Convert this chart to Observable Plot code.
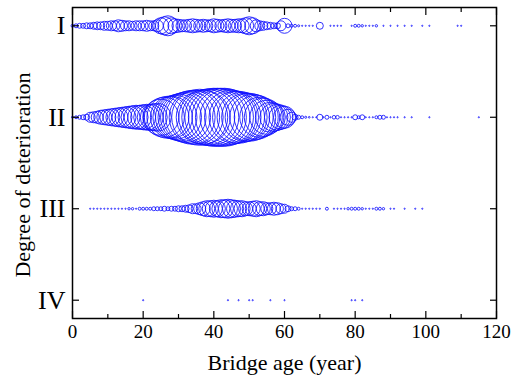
<!DOCTYPE html>
<html>
<head>
<meta charset="utf-8">
<script src="https://cdn.jsdelivr.net/npm/d3@7"></script>
<script src="https://cdn.jsdelivr.net/npm/@observablehq/plot@0.6"></script>
<style>
  html, body { margin: 0; padding: 0; background: white; }
  svg text { font-family: "Liberation Serif", "Times New Roman", serif; }
</style>
</head>
<body>
<div id="chart"></div>
<script>
// Degree categories (y positions 1..4) and their labels
const degreeLabels = ["I", "II", "III", "IV"];
const xMajorTicks = [0, 20, 40, 60, 80, 100, 120];
const xMinorTicks = [10, 30, 50, 70, 90, 110];

// Degree I: bridge age and count of bridges
const agesI = [0,1,2,3,4,5,6,7,8,9,10,11,12,13,14,15,16,17,18,19,20,21,22,23,24,25,26,27,28,29,30,31,32,33,34,35,36,37,38,39,40,41,42,43,44,45,46,47,48,49,50,51,52,53,54,55,56,57,58,59,60,61,62,63,64,65,66,67,68,70,73,74,75,76,79,80,81,82,83,84,85,86,88,90,92,94,96,99,101,109,110];
const countsI = [6,11,17,17,25,25,34,44,44,56,56,69,69,100,84,69,69,56,69,69,69,84,69,69,100,178,225,278,178,136,117,100,100,117,136,117,100,117,100,100,136,117,100,117,136,117,117,136,136,178,225,178,100,69,56,44,34,25,25,69,156,11,6,6,3,1,1,1,1,34,1,1,1,1,1,6,6,4,1,1,1,4,1,1,1,1,1,1,1,1,1];

// Degree II
const agesII = [0,1,2,3,4,5,6,7,8,9,10,11,12,13,14,15,16,17,18,19,20,21,22,23,24,25,26,27,28,29,30,31,32,33,34,35,36,37,38,39,40,41,42,43,44,45,46,47,48,49,50,51,52,53,54,55,56,57,58,59,60,61,62,63,64,65,66,67,68,69,70,71,72,73,74,75,76,77,78,79,80,81,82,83,84,85,86,87,88,89,90,91,92,94,96,101,115];
const countsII = [3,6,11,17,25,69,84,100,136,156,178,201,225,251,278,306,336,367,400,400,434,469,469,506,544,900,1111,1225,1225,1344,1469,1600,1736,1878,2025,2025,2178,2025,2178,2256,2336,2336,2336,2336,2178,2025,1878,1878,1736,1600,1600,1469,1344,1111,1003,803,625,544,469,400,336,178,69,25,11,6,3,2,1,1,25,1,11,1,9,9,1,1,1,1,17,6,17,1,1,1,6,11,11,1,1,1,1,1,1,1,1];

// Degree III
const agesIII = [5,6,7,8,9,10,11,12,13,14,15,16,17,18,19,20,21,22,23,24,25,26,27,28,29,30,31,32,33,34,35,36,37,38,39,40,41,42,43,44,45,46,47,48,49,50,51,52,53,54,55,56,57,58,59,60,61,62,63,64,65,66,67,68,69,70,72,74,75,76,77,78,79,80,81,82,83,84,85,86,87,88,90,91,94,97,99];
const countsIII = [1,1,1,1,1,1,1,1,1,1,1,4,4,1,6,6,6,6,11,11,11,17,11,17,17,25,25,34,44,69,69,100,136,178,178,201,178,225,225,251,225,201,178,178,136,136,156,178,136,136,100,100,117,100,69,56,25,11,11,6,1,1,1,1,1,1,6,1,1,1,1,4,6,6,6,4,1,1,1,6,6,4,1,1,1,1,1];

// Degree IV
const agesIV = [20,44,47,50,51,56,60,79,80,82];
const countsIV = [1,1,1,1,1,1,1,1,1,1];

const rows = [];
[[agesI, countsI], [agesII, countsII], [agesIII, countsIII], [agesIV, countsIV]].forEach(([ages, counts], i) => {
  ages.forEach((a, j) => rows.push({age: a, degree: i + 1, count: counts[j]}));
});

const serif = '"Liberation Serif", "Times New Roman", serif';

const chart = Plot.plot({
  width: 516,
  height: 383,
  marginLeft: 72,
  marginRight: 20,
  marginTop: 7,
  marginBottom: 65,
  style: {fontFamily: serif, background: "white", color: "black"},
  x: {domain: [0, 120], label: null},
  y: {domain: [0.8, 4.2], reverse: true, label: null},
  r: {type: "sqrt", domain: [0, 2400], range: [0, 29.4]},
  marks: [
    Plot.dot(rows, {x: "age", y: "degree", r: "count", stroke: "#0f0fff", strokeWidth: 0.85, fill: "none"}),
    Plot.frame({stroke: "black", strokeWidth: 1.5}),
    // x axis: labels
    Plot.axisX({anchor: "bottom", ticks: xMajorTicks, tickSize: 0, tickPadding: 6, fontSize: 19, tickFormat: d => String(d)}),
    // x axis: inward major & minor ticks bottom and top
    Plot.axisX({anchor: "bottom", ticks: xMajorTicks, tickSize: -7, tickFormat: () => "", strokeWidth: 1.2}),
    Plot.axisX({anchor: "bottom", ticks: xMinorTicks, tickSize: -4, tickFormat: () => "", strokeWidth: 1.2}),
    Plot.axisX({anchor: "top", ticks: xMajorTicks, tickSize: -7, tickFormat: () => "", strokeWidth: 1.2}),
    Plot.axisX({anchor: "top", ticks: xMinorTicks, tickSize: -4, tickFormat: () => "", strokeWidth: 1.2}),
    // y axis: labels and inward ticks
    Plot.axisY({anchor: "left", ticks: [1, 2, 3, 4], tickSize: 0, tickPadding: 7, fontSize: 26, tickFormat: d => degreeLabels[d - 1]}),
    Plot.axisY({anchor: "left", ticks: [1, 2, 3, 4], tickSize: -7, tickFormat: () => "", strokeWidth: 1.2}),
    Plot.axisY({anchor: "right", ticks: [1, 2, 3, 4], tickSize: -7, tickFormat: () => "", strokeWidth: 1.2}),
    // axis titles
    Plot.text(["Bridge age (year)"], {frameAnchor: "bottom", textAnchor: "middle", dy: 51, fontSize: 22, fontFamily: serif, fill: "black"}),
    Plot.text(["Degree of deterioration"], {frameAnchor: "left", textAnchor: "middle", rotate: -90, dx: -50, dy: 12, fontSize: 22, fontFamily: serif, fill: "black"})
  ]
});

document.getElementById("chart").appendChild(chart);
</script>
</body>
</html>
